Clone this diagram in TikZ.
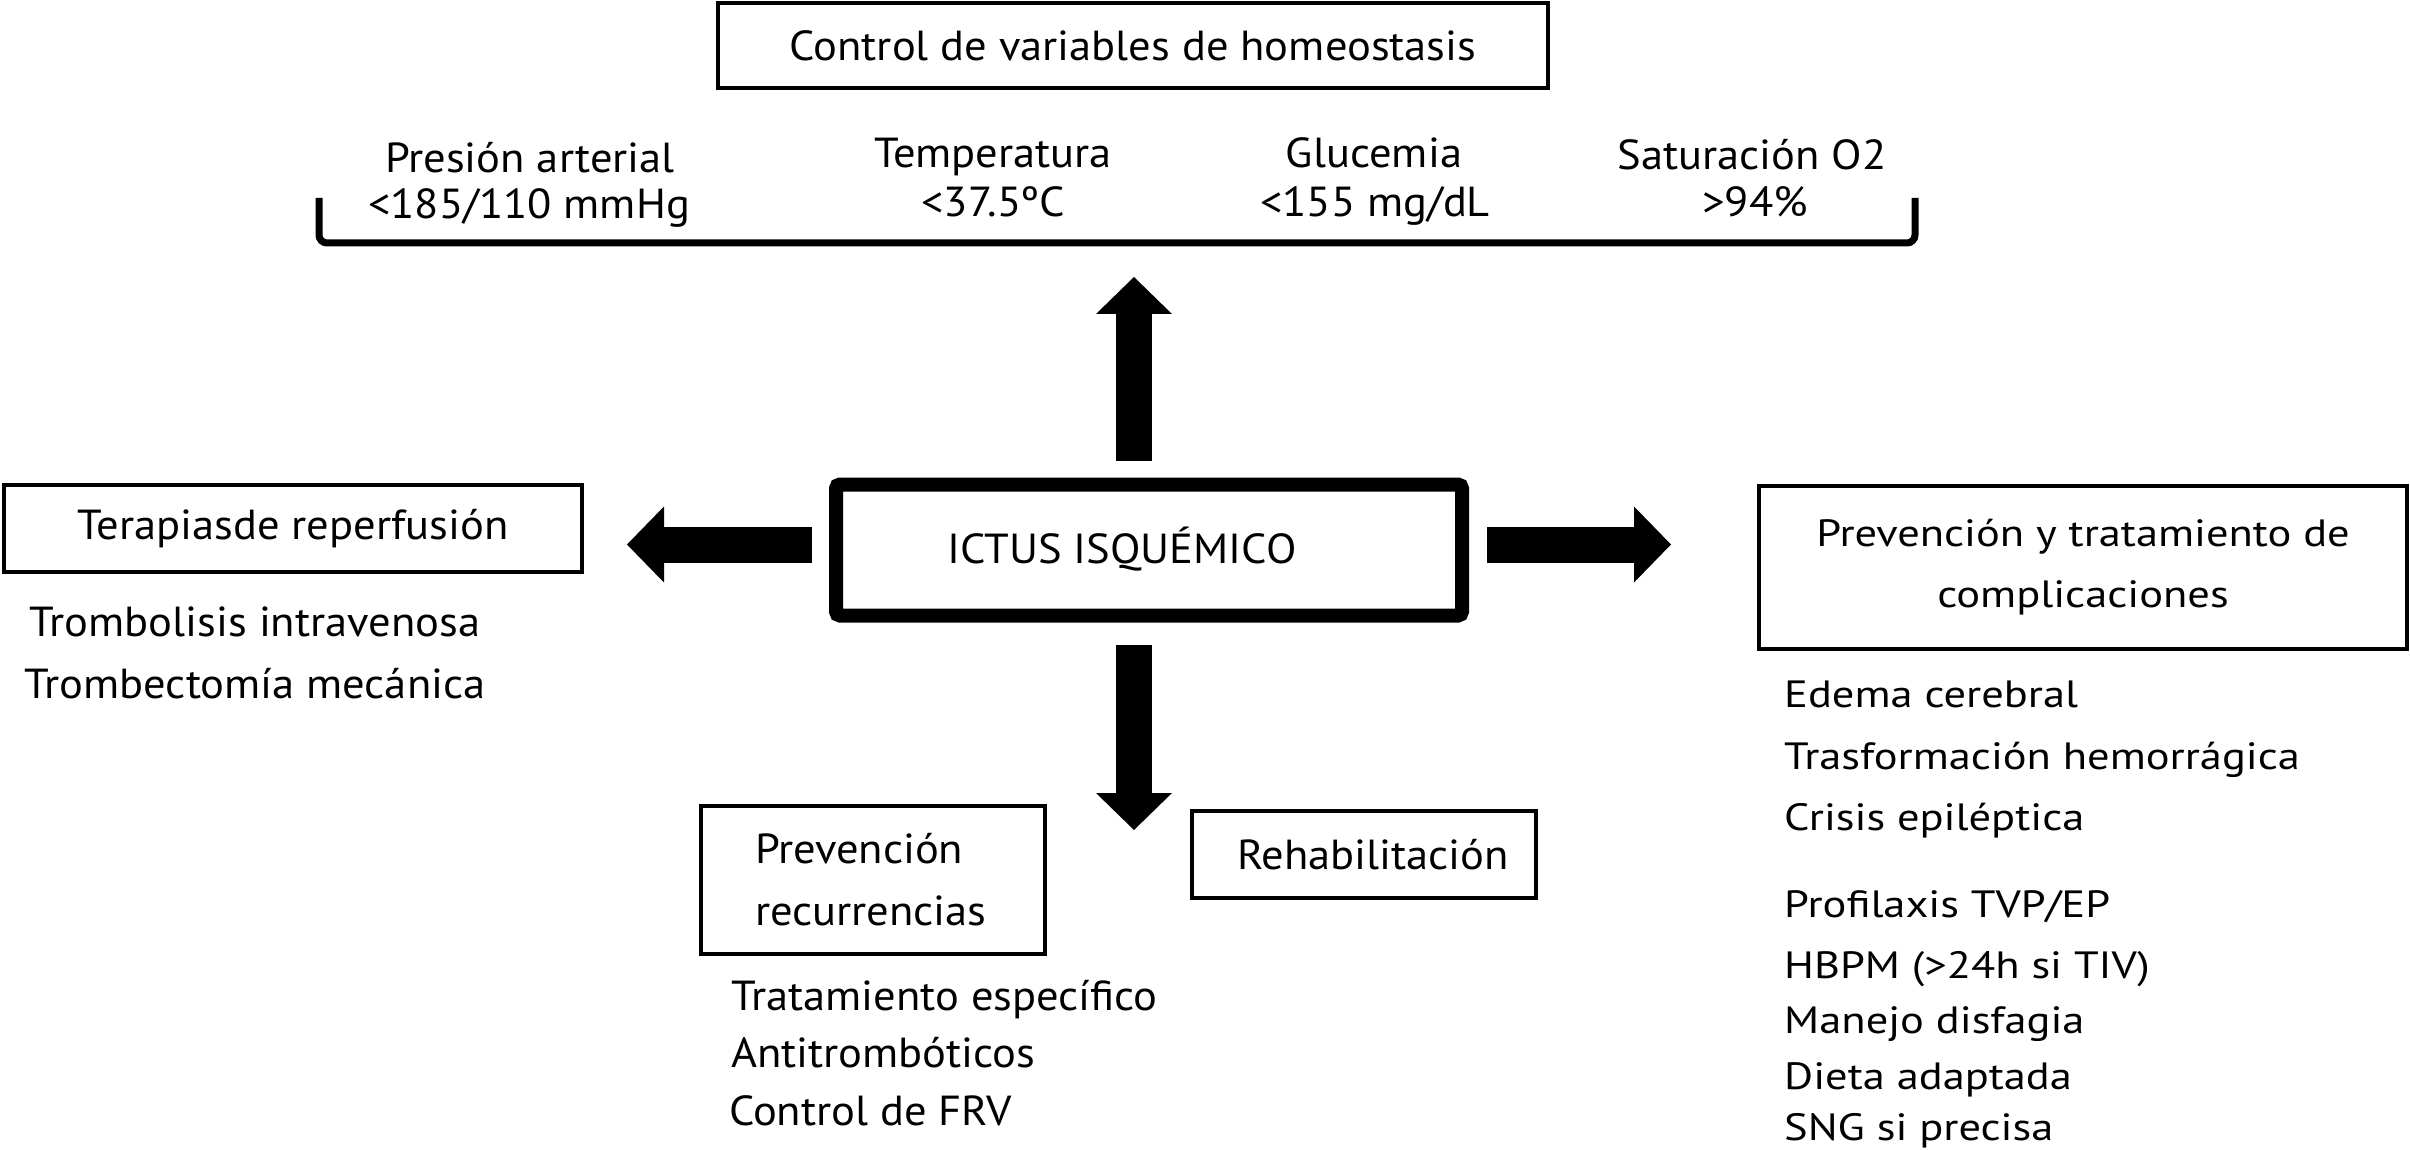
\documentclass[tikz,border=0pt]{standalone}
\usepackage{fontspec}
\setmainfont{PT Sans}
\newfontfamily\nf{PT Sans}[FakeStretch=1.17]
\newfontfamily\cf{PT Sans}[FakeStretch=1.06]
\usetikzlibrary{arrows.meta}
\tikzset{
  thinbox/.style={draw, line width=4.5pt, rectangle, inner sep=0pt},
  condtxt/.style={font=\cf\fontsize{42}{48}\selectfont, inner sep=0pt},
  normtxt/.style={font=\nf\fontsize{38}{61}\selectfont, inner sep=0pt},
  blockarrow/.style={line width=36pt, -{Triangle[length=37pt,width=76pt,line width=0pt]}},
  bracketline/.style={line width=7pt, rounded corners=8pt}
}
\begin{document}
\begin{tikzpicture}[x=1pt,y=-1pt]
\fill[white] (0,0) rectangle (2410,1150);
\useasboundingbox (0,0) rectangle (2410,1150);

% top box
\node[thinbox, line width=4pt, minimum width=830pt, minimum height=85pt, condtxt] (top) at (1133,46) {Control de variables de homeostasis};

% variables
\node[condtxt, anchor=base] (pa1) at (530,173) {Presión arterial};
\node[condtxt, anchor=base] (pa2) at (529,219) {<185/110 mmHg};
\node[condtxt, anchor=base] (te1) at (993,168) {Temperatura};
\node[condtxt, anchor=base] (te2) at (993,217) {<37.5ºC};
\node[condtxt, anchor=base] (gl1) at (1374,168) {Glucemia};
\node[condtxt, anchor=base] (gl2) at (1375,217) {<155 mg/dL};
\node[condtxt, anchor=base] (sa1) at (1752,170) {Saturación O2};
\node[condtxt, anchor=base] (sa2) at (1755,217) {>94\%};
\coordinate (brA) at (319,198);
\coordinate (brB) at (1915,198);
\draw[bracketline] (brA) -- (brA |- 0,243) -- (brB |- 0,243) -- (brB);

% center
\node[draw, line width=14pt, rounded corners=4pt, minimum width=626pt, minimum height=131pt, inner sep=0pt] (ictus) at (1149,550) {};
\node[condtxt] (ictustxt) at (1122,549) {ICTUS ISQUÉMICO};

% left
\node[thinbox, minimum width=578pt, minimum height=87pt, condtxt] (terap) at (293,528.5) {Terapiasde reperfusión};
\node[condtxt, anchor=base] (tr1) at (255,636) {Trombolisis intravenosa};
\node[condtxt, anchor=base] (tr2) at (255,698) {Trombectomía mecánica};

% right
\node[thinbox, minimum width=648pt, minimum height=163pt, normtxt, align=center] (compl) at (2083,567.5) {Prevención y tratamiento de\\complicaciones};
\node[normtxt, anchor=base west] (c1) at (1784,707) {Edema cerebral};
\node[normtxt, anchor=base west] (c2) at (1784,769) {Trasformación hemorrágica};
\node[normtxt, anchor=base west] (c3) at (1784,830) {Crisis epiléptica};
\node[normtxt, anchor=base west] (c4) at (1784,917) {Profilaxis TVP/EP};
\node[normtxt, anchor=base west] (c5) at (1784,978) {HBPM (>24h si TIV)};
\node[normtxt, anchor=base west] (c6) at (1784,1033) {Manejo disfagia};
\node[normtxt, anchor=base west] (c7) at (1784,1089) {Dieta adaptada};
\node[normtxt, anchor=base west] (c8) at (1784,1140) {SNG si precisa};

% bottom
\node[thinbox, minimum width=344pt, minimum height=148pt, condtxt, font=\cf\fontsize{42}{62}\selectfont, align=left, text width=236pt, inner xsep=54pt] (prev) at (873,880) {Prevención\\recurrencias};
\node[thinbox, minimum width=344pt, minimum height=87pt, condtxt] (rehab) at (1364,854.5) {\hspace*{18pt}Rehabilitación};
\node[condtxt, anchor=base west] (p1) at (731,1010) {Tratamiento específico};
\node[condtxt, anchor=base west] (p2) at (731,1067) {Antitrombóticos};
\node[condtxt, anchor=base west] (p3) at (729,1125) {Control de FRV};

% block arrows
\coordinate (upS) at (1134,461); \coordinate (upE) at (1134,277);
\coordinate (dnS) at (1134,645); \coordinate (dnE) at (1134,830);
\coordinate (lfS) at (812,544.5); \coordinate (lfE) at (627,544.5);
\coordinate (rtS) at (1487,544.5); \coordinate (rtE) at (1671,544.5);
\draw[blockarrow] (upS) -- (upE);
\draw[blockarrow] (dnS) -- (dnE);
\draw[blockarrow] (lfS) -- (lfE);
\draw[blockarrow] (rtS) -- (rtE);
\end{tikzpicture}
\end{document}
